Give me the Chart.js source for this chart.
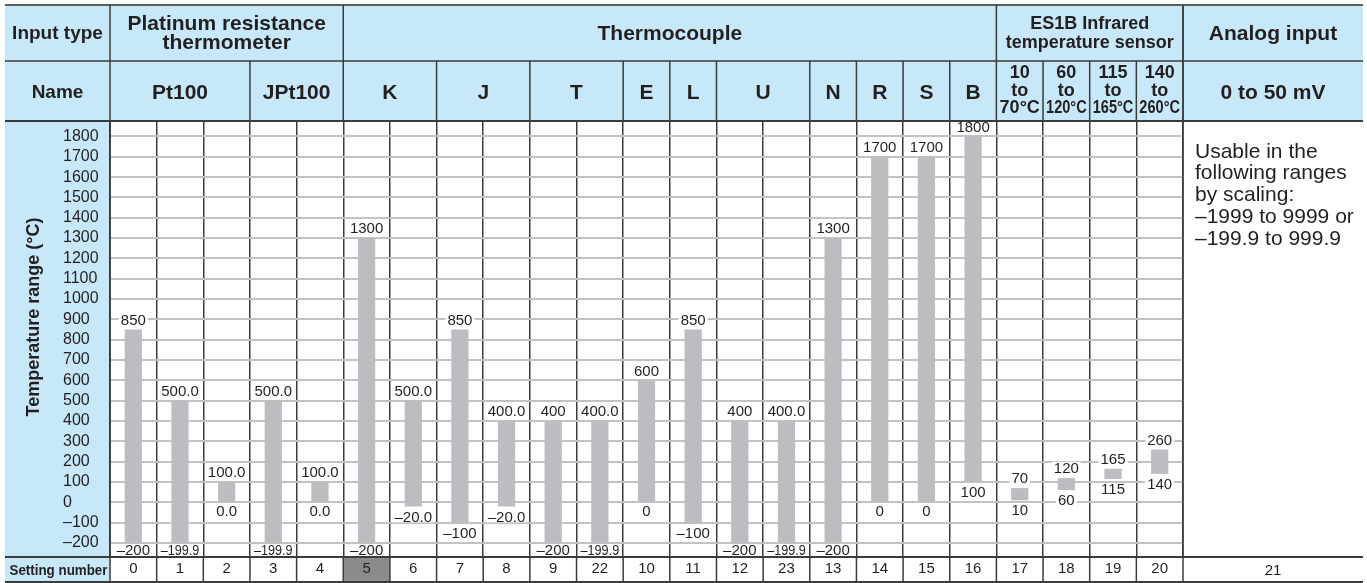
<!DOCTYPE html>
<html>
<head>
<meta charset="utf-8">
<title>Input types and temperature ranges</title>
<script src="https://cdn.jsdelivr.net/npm/chart.js@4.4.1/dist/chart.umd.min.js"></script>
<style>
  body { margin: 0; background: #fff; }
  #chart { display: block; }
</style>
</head>
<body>
<canvas id="chart" width="1367" height="583"></canvas>
<script>
// setting numbers, left to right
const settingNumbers = ['0','1','2','3','4','5','6','7','8','9','22','10','11','12','23','13','14','15','16','17','18','19','20'];
const highlightSetting = '5';
const analogSetting = '21';

// lower / upper limit of each range (°C)
const lowValues  = [-200, -199.9, 0, -199.9, 0, -200, -20, -100, -20, -200, -199.9, 0, -100, -200, -199.9, -200, 0, 0, 100, 10, 60, 115, 140];
const highValues = [850, 500, 100, 500, 100, 1300, 500, 850, 400, 400, 400, 600, 850, 400, 400, 1300, 1700, 1700, 1800, 70, 120, 165, 260];
// digits printed after the decimal point
const decimals   = [0, 1, 1, 1, 1, 0, 1, 0, 1, 0, 1, 0, 0, 0, 1, 0, 0, 0, 0, 0, 0, 0, 0];

const yTicks = [-200, -100, 0, 100, 200, 300, 400, 500, 600, 700, 800, 900, 1000, 1100, 1200, 1300, 1400, 1500, 1600, 1700, 1800];

// header cells: text lines + number of columns spanned
const inputTypes = [
  [['Platinum resistance', 'thermometer'], 5],
  [['Thermocouple'], 14],
  [['ES1B Infrared', 'temperature sensor'], 4]
];
const sensorNames = [['Pt100', 3], ['JPt100', 2], ['K', 2], ['J', 2], ['T', 2], ['E', 1], ['L', 1], ['U', 2], ['N', 1], ['R', 1], ['S', 1], ['B', 1]];
const analogRange = '0 to 50 mV';
const analogNote = ['Usable in the', 'following ranges', 'by scaling:', '–1999 to 9999 or', '–199.9 to 999.9'];

const INK = '#231f20';
const BLUE = '#c7e8f8';
const RULE = '#3b3b3b';
const FAMILY = '"Liberation Sans", Arial, Helvetica, sans-serif';
const font = (size, bold) => (bold ? 'bold ' : '') + size + 'px ' + FAMILY;

Chart.defaults.font.family = FAMILY;

function fmt(v, d) {
  return (v < 0 ? '–' : '') + Math.abs(v).toFixed(d);
}

const tablePlugin = {
  id: 'table',
  beforeDraw(chart) {
    const {ctx, chartArea: a, scales: {x}} = chart;
    const colW = x.width / settingNumbers.length;
    const right = chart.width - 4, bottom = chart.height - 1;
    ctx.save();
    ctx.fillStyle = '#fff';
    ctx.fillRect(0, 0, chart.width, chart.height);
    ctx.fillStyle = BLUE;
    ctx.fillRect(5, 5, right - 5, a.top - 5);
    ctx.fillRect(5, a.top, a.left - 5, bottom - a.top);
    // shaded setting cell
    const hi = settingNumbers.indexOf(highlightSetting);
    ctx.fillStyle = '#8a8b8d';
    ctx.fillRect(x.getPixelForValue(hi) - colW / 2, a.bottom, colW, bottom - a.bottom);
    ctx.restore();
  },
  afterDatasetsDraw(chart) {
    const {ctx, chartArea: a} = chart;
    const colW = chart.scales.x.width / settingNumbers.length;
    const meta = chart.getDatasetMeta(0);
    ctx.save();
    ctx.font = font(15);
    ctx.textAlign = 'center';
    ctx.textBaseline = 'middle';
    const tag = (text, cx, cy) => {
      const w = Math.min(ctx.measureText(text).width, colW - 8);
      ctx.fillStyle = '#fff';
      ctx.fillRect(cx - w / 2 - 2, cy - 6, w + 4, 12);
      ctx.fillStyle = INK;
      ctx.fillText(text, cx, cy + 1, colW - 8);
    };
    meta.data.forEach((bar, i) => {
      const top = Math.min(bar.y, bar.base);
      const bot = Math.max(bar.y, bar.base);
      tag(fmt(highValues[i], decimals[i]), bar.x, top - 10);
      tag(fmt(lowValues[i], decimals[i]), bar.x, Math.min(bot + 10, a.bottom - 7));
    });
    ctx.restore();
  },
  afterDraw(chart) {
    const {ctx, chartArea: a, scales: {x}} = chart;
    const n = settingNumbers.length;
    const colW = x.width / n;
    const edge = i => x.left + i * colW;
    const right = chart.width - 4, top = 5, mid = 61, bottom = chart.height - 1;
    const line = (x1, y1, x2, y2) => { ctx.beginPath(); ctx.moveTo(x1, y1); ctx.lineTo(x2, y2); ctx.stroke(); };
    const lines = (rows, cx, cy, gap, maxW) => {
      rows.forEach((t, k) => ctx.fillText(t, cx, cy + (k - (rows.length - 1) / 2) * gap, maxW));
    };

    ctx.save();
    // rules
    ctx.strokeStyle = '#5e5e5e';
    ctx.lineWidth = 2;
    line(5, top, right, top);
    ctx.strokeStyle = RULE;
    ctx.lineWidth = 1.5;
    line(5, mid, right, mid);
    ctx.lineWidth = 2;
    line(5, a.top, right, a.top);
    line(5, a.bottom, right, a.bottom);
    line(5, bottom, right, bottom);
    ctx.lineWidth = 1.5;
    line(a.left, top, a.left, bottom);
    line(a.right, top, a.right, bottom);

    ctx.fillStyle = INK;
    ctx.textAlign = 'center';
    ctx.textBaseline = 'middle';

    // row 1: input type
    const r1 = (top + mid) / 2 + 1;
    ctx.font = font(19, true);
    ctx.fillText('Input type', (5 + a.left) / 2, r1);
    let c = 0;
    inputTypes.forEach(([txt, span], k) => {
      const x0 = edge(c), x1 = edge(c + span);
      ctx.font = font(k === 2 ? 18 : 21, true);
      lines(txt, (x0 + x1) / 2, r1, 19, x1 - x0 - 10);
      line(x1, top, x1, mid);
      c += span;
    });
    ctx.font = font(21, true);
    ctx.fillText('Analog input', (a.right + right) / 2, r1);

    // row 2: sensor names
    const r2 = 93;
    ctx.font = font(19, true);
    ctx.fillText('Name', (5 + a.left) / 2, r2);
    ctx.font = font(21, true);
    c = 0;
    sensorNames.forEach(([name, span]) => {
      const x0 = edge(c), x1 = edge(c + span);
      ctx.fillText(name, (x0 + x1) / 2, r2);
      line(x1, mid, x1, a.top);
      c += span;
    });
    ctx.fillText(analogRange, (a.right + right) / 2, r2);
    // infrared sensor ranges, narrow cells
    ctx.font = font(18, true);
    for (let i = c; i < n; i++) {
      lines([String(lowValues[i]), 'to', highValues[i] + '°C'], edge(i) + colW / 2, 91, 17.5, colW - 6);
      line(edge(i + 1), mid, edge(i + 1), a.top);
    }

    // setting number row
    for (let i = 1; i < n; i++) line(edge(i), a.bottom, edge(i), bottom);
    ctx.font = font(15, true);
    ctx.fillText('Setting number', (5 + a.left) / 2 + 1, (a.bottom + bottom) / 2 + 1, 98);
    ctx.font = font(15);
    ctx.fillText(analogSetting, (a.right + right) / 2, (a.bottom + bottom) / 2 + 1);

    // y axis title
    ctx.save();
    ctx.font = font(18, true);
    ctx.translate(34, 317);
    ctx.rotate(-Math.PI / 2);
    ctx.fillText('Temperature range (°C)', 0, 0);
    ctx.restore();

    // analog input note
    ctx.textAlign = 'left';
    ctx.font = font(21);
    analogNote.forEach((t, k) => ctx.fillText(t, a.right + 12, 152 + k * 21.7));
    ctx.restore();
  }
};

new Chart(document.getElementById('chart'), {
  type: 'bar',
  data: {
    labels: settingNumbers,
    datasets: [{
      data: lowValues.map((v, i) => [v, highValues[i]]),
      backgroundColor: '#bcbdc0',
      borderWidth: 0,
      barPercentage: 0.37,
      categoryPercentage: 1
    }]
  },
  options: {
    responsive: false,
    animation: false,
    layout: { padding: { left: 63, top: 121, right: 184, bottom: 0 } },
    plugins: {
      legend: { display: false },
      tooltip: { enabled: false }
    },
    scales: {
      x: {
        grid: { color: RULE, lineWidth: 1.5, drawTicks: false, offset: true },
        border: { color: RULE, width: 2 },
        ticks: { color: INK, font: { size: 15 }, padding: 3, autoSkip: false, maxRotation: 0 },
        afterFit(s) { s.height = 26; }
      },
      y: {
        min: -269,
        max: 1876,
        afterBuildTicks(s) { s.ticks = yTicks.map(v => ({ value: v })); },
        grid: { color: '#c2c2c2', lineWidth: 2, drawTicks: false },
        border: { color: RULE, width: 1.5 },
        ticks: { crossAlign: 'far', autoSkip: false, color: INK, font: { size: 16 }, callback: v => fmt(v, 0) },
        afterFit(s) { s.width = 47; }
      }
    }
  },
  plugins: [tablePlugin]
});
</script>
</body>
</html>
